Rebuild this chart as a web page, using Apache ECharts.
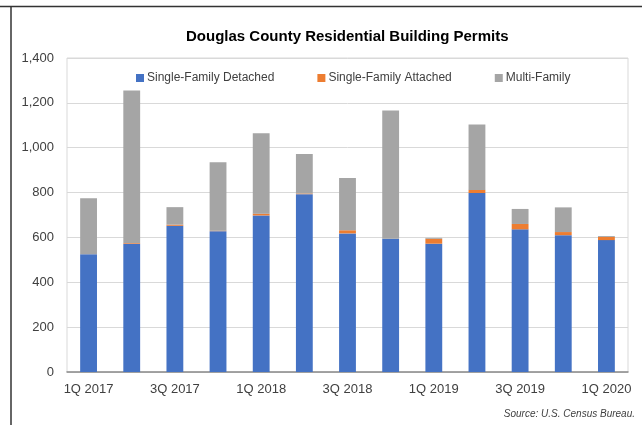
<!DOCTYPE html>
<html>
<head>
<meta charset="utf-8">
<script src="https://cdn.jsdelivr.net/npm/echarts@6/dist/echarts.min.js"></script>
<style>html,body{margin:0;padding:0;background:#fff;}#c{width:642px;height:425px;}</style>
</head>
<body>
<div id="c"></div>
<script>
var categories = ['1Q 2017','2Q 2017','3Q 2017','4Q 2017','1Q 2018','2Q 2018','3Q 2018','4Q 2018','1Q 2019','2Q 2019','3Q 2019','4Q 2019','1Q 2020'];
var singleDetached = [525, 572, 652, 628, 698, 793, 618, 594, 572, 798, 636, 610, 588];
var singleAttached = [0, 3, 5, 2, 8, 3, 14, 0, 22, 14, 24, 14, 14];
var multiFamily = [250, 680, 78, 305, 358, 176, 233, 572, 4, 292, 67, 110, 4];
var yTicks = [0, 200, 400, 600, 800, 1000, 1200, 1400];

var chart = echarts.init(document.getElementById('c'));
var fontFam = 'Liberation Sans, Arial, sans-serif';
chart.setOption({
  animation: false,
  textStyle: {fontFamily: fontFam},
  title: {
    text: 'Douglas County Residential Building Permits',
    left: 181, top: 24,
    textStyle: {fontSize: 15, fontWeight: 'bold', color: '#000', fontFamily: fontFam}
  },
  legend: {
    top: 67, left: 131,
    itemWidth: 8, itemHeight: 8, itemGap: 43,
    icon: 'rect',
    textStyle: {fontSize: 12, color: '#404040', padding: [0, 0, 0, -2]},
    data: ['Single-Family Detached', 'Single-Family Attached', 'Multi-Family']
  },
  grid: {left: 67, right: 14, top: 58, bottom: 53, show: true, borderColor: '#d9d9d9', borderWidth: 1},
  xAxis: {
    type: 'category', data: categories,
    axisLine: {lineStyle: {color: '#8c8c8c', width: 1.5}},
    axisTick: {show: false},
    axisLabel: {interval: 1, fontSize: 13, color: '#404040', margin: 11}
  },
  yAxis: {
    type: 'value', min: 0, max: 1400, interval: 200,
    axisLine: {show: false}, axisTick: {show: false},
    splitLine: {lineStyle: {color: '#d9d9d9'}},
    axisLabel: {fontSize: 13, color: '#404040', margin: 13,
      formatter: function (v) { return yTicks.indexOf(v) >= 0 ? v.toLocaleString('en-US') : ''; }}
  },
  series: [
    {name: 'Single-Family Detached', type: 'bar', stack: 'a', data: singleDetached, barCategoryGap: '61%', itemStyle: {color: '#4472C4'}},
    {name: 'Single-Family Attached', type: 'bar', stack: 'a', data: singleAttached, itemStyle: {color: '#ED7D31'}},
    {name: 'Multi-Family', type: 'bar', stack: 'a', data: multiFamily, itemStyle: {color: '#A5A5A5'}}
  ],
  graphic: [
    {type: 'line', shape: {x1: 0, y1: 6.5, x2: 642, y2: 6.5}, style: {stroke: '#333', lineWidth: 1.5}},
    {type: 'line', shape: {x1: 11, y1: 6, x2: 11, y2: 425}, style: {stroke: '#333', lineWidth: 1.5}},
    {type: 'text', right: 7, top: 409, style: {text: 'Source: U.S. Census Bureau.', fontSize: 10, fontStyle: 'italic', fill: '#404040', fontFamily: fontFam}}
  ]
});
</script>
</body>
</html>
